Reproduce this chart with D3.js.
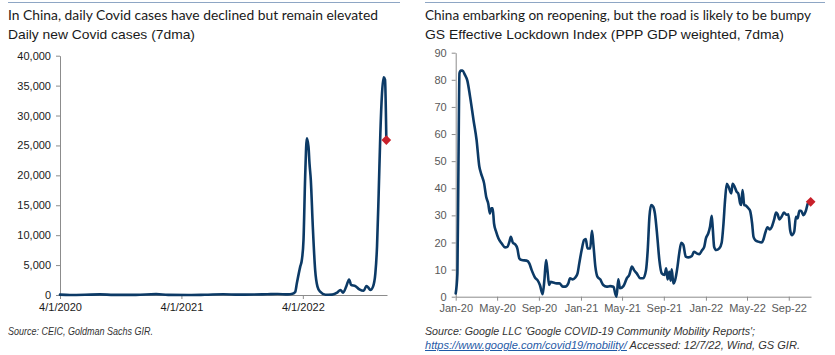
<!DOCTYPE html>
<html>
<head>
<meta charset="utf-8">
<script src="https://cdn.jsdelivr.net/npm/d3@7"></script>
<style>
  html, body { margin: 0; padding: 0; background: #fff; }
  svg { display: block; }
</style>
</head>
<body>
<svg id="chart" width="835" height="355"></svg>
<script>
// ---------- DATA ----------
// Left panel: China daily new Covid cases (7dma)
const casesDates = ["2020-04-01","2020-05-01","2020-06-15","2020-07-30","2020-09-10","2020-11-15",
  "2021-01-15","2021-02-20","2021-05-01","2021-06-10","2021-08-05","2021-09-20","2021-11-05","2021-12-15",
  "2022-01-15","2022-02-15","2022-03-01","2022-03-09","2022-03-14","2022-03-24","2022-03-29","2022-04-03",
  "2022-04-08","2022-04-13","2022-04-18","2022-04-21","2022-04-25","2022-05-01","2022-05-08","2022-05-15",
  "2022-05-23","2022-06-08","2022-06-28","2022-07-13","2022-07-23","2022-07-31","2022-08-10","2022-08-18",
  "2022-08-24","2022-09-06","2022-09-18","2022-10-01","2022-10-09","2022-10-14","2022-10-21","2022-10-29",
  "2022-11-05","2022-11-10","2022-11-15","2022-11-20","2022-11-25","2022-11-30","2022-12-04","2022-12-08"];
const casesValues = [60,10,40,100,20,20,
  150,20,10,30,120,60,80,130,
  170,100,200,500,1960,4700,5850,9200,
  19800,26200,24800,22000,19200,11400,4200,1400,
  550,50,60,390,840,390,1500,2600,
  1700,1500,950,720,1500,1300,840,1400,
  3600,8100,17000,27000,33700,36400,36000,25900];
const casesYTicks = [0,5000,10000,15000,20000,25000,30000,35000,40000];
const casesXTicks = ["2020-04-01","2021-04-01","2022-04-01"];
const casesXTickLabels = ["4/1/2020","4/1/2021","4/1/2022"];

// Right panel: GS Effective Lockdown Index (days since series start)
const lockdownStart = "2020-01-31";
const lockdownDays = [0,5,8,11,15,20,27,34,42,52,
  61,69,74,83,89,95,100,104,108,112,
  118,125,134,144,151,157,161,167,173,180,
  186,193,207,215,222,232,239,246,254,259,
  264,268,273,278,285,295,303,313,320,329,
  334,342,349,356,361,368,375,380,385,393,
  398,402,408,414,422,431,441,451,461,466,
  470,475,480,490,500,507,515,521,529,539,
  548,556,561,566,571,577,582,589,595,602,
  610,615,619,624,628,631,636,641,648,653,
  659,665,672,680,690,696,704,712,719,726,
  731,738,743,748,751,755,761,770,777,782,
  787,792,797,805,809,814,821,826,831,834,
  838,843,848,855,860,866,870,875,884,894,
  899,904,911,918,923,930,936,940,946,952,
  959,967,972,977,982,989,994,999,1004,1009,
  1016,1023,1029,1037];
const lockdownValues = [1.2,8.6,48,82.4,83.4,83.4,81.8,79.7,73.8,65.2,
  57.8,48,45.5,41.8,36.9,34.4,30.7,32.6,32.6,27,
  24,21.5,19.7,18.2,18.4,20.3,22.1,19.9,19.4,17.8,
  14.1,13.5,13.3,12.3,9.8,7,6.1,4.3,0.9,6,
  13.5,9.8,4.3,5.5,5.2,4.9,4.9,3.7,3.7,4.9,
  6.8,6.4,7,8.6,12.3,17.2,20.9,21.3,17.8,17.8,
  24.3,19.7,11.1,7.4,6.4,4.3,3.7,3.9,3.7,1.2,
  0,6.4,3.1,3.9,6.8,8,11.1,9.8,8.6,6.8,
  6.8,9.8,17.2,29.5,33.8,33.2,30.7,22.1,13.5,8.6,
  8,10.5,6.4,9.2,5.9,10.1,4.9,6.1,11.1,16,
  19.9,19.1,14.8,14.5,15,16.6,16,15.7,17,18.4,
  21.5,23.4,25.8,29.8,25.2,18.4,17.2,17.8,19.9,26.4,
  35.7,41.6,40.6,38.1,41.6,40.8,38.7,37.9,34.4,33.8,
  39.3,33.8,33.6,32.6,31.7,27,22.1,20.9,20.3,20,
  21.1,23.4,25.6,24.8,25.6,28.3,31,30.5,28.5,29.5,
  31,30.2,30.4,24.6,22.7,24,29.5,28.9,31.7,31.7,
  30.1,31.7,34.4,35];
const lockdownYTicks = [0,10,20,30,40,50,60,70,80,90];
const lockdownXTicks = ["2020-01-31","2020-05-31","2020-09-30","2021-01-31","2021-05-31","2021-09-30","2022-01-31","2022-05-31","2022-09-30"];
const lockdownXTickLabels = ["Jan-20","May-20","Sep-20","Jan-21","May-21","Sep-21","Jan-22","May-22","Sep-22"];

// ---------- DRAW ----------
const parse = d3.utcParse("%Y-%m-%d");
const svg = d3.select("#chart");
const LINE = "#0c3a66", RED = "#c8202a", AXIS = "#8c8c8c";

function header(x0, x1, title, tLen, sub, sLen) {
  svg.append("line").attr("x1", x0).attr("x2", x1).attr("y1", 2.5).attr("y2", 2.5)
    .attr("stroke", "#8ea6c4").attr("stroke-width", 1);
  svg.append("text").attr("x", x0).attr("y", 19.5)
    .attr("font-family", "Lato, 'Open Sans', sans-serif").attr("font-size", 14)
    .attr("fill", "#1a1a1a").attr("textLength", tLen).attr("lengthAdjust", "spacingAndGlyphs")
    .text(title);
  svg.append("text").attr("x", x0).attr("y", 38.5)
    .attr("font-family", "'Liberation Sans', Arial, sans-serif").attr("font-size", 13)
    .attr("fill", "#1a1a1a").attr("textLength", sLen).attr("lengthAdjust", "spacingAndGlyphs")
    .text(sub);
}

function panel(opts) {
  const x = d3.scaleUtc().domain(opts.xDomain).range(opts.xRange);
  const y = d3.scaleLinear().domain(opts.yDomain).range(opts.yRange);
  const g = svg.append("g");

  // y axis
  const yAx = g.append("g").attr("transform", `translate(${opts.xRange[0]},0)`)
    .call(d3.axisLeft(y).tickValues(opts.yTicks).tickSize(4).tickSizeOuter(0).tickPadding(5)
      .tickFormat(opts.yFormat));
  yAx.select(".domain").attr("stroke", AXIS);
  yAx.selectAll(".tick line").attr("stroke", AXIS);
  yAx.selectAll("text").attr("font-family", "'Liberation Sans', Arial, sans-serif")
    .attr("font-size", 11).attr("fill", opts.labelColor);

  // x axis
  const xAx = g.append("g").attr("transform", `translate(0,${opts.yRange[0]})`)
    .call(d3.axisBottom(x).tickValues(opts.xTicks).tickSize(4).tickSizeOuter(0).tickPadding(4)
      .tickFormat((d, i) => opts.xLabels[i]));
  xAx.select(".domain").attr("stroke", AXIS);
  xAx.selectAll(".tick line").attr("stroke", AXIS);
  xAx.selectAll("text").attr("font-family", "'Liberation Sans', Arial, sans-serif")
    .attr("font-size", 11).attr("fill", opts.labelColor);

  const line = d3.line().x(d => x(d.date)).y(d => y(d.value)).curve(d3.curveMonotoneX);
  g.append("path").datum(opts.data).attr("d", line)
    .attr("fill", "none").attr("stroke", LINE).attr("stroke-width", 2.6)
    .attr("stroke-linejoin", "round").attr("stroke-linecap", "round");

  const last = opts.data[opts.data.length - 1];
  g.append("path").attr("d", d3.symbol(d3.symbolDiamond2, 60)())
    .attr("transform", `translate(${x(last.date)},${y(last.value)}) rotate(0)`)
    .attr("fill", RED);
}

// Left panel
header(8, 400, "In China, daily Covid cases have declined but remain elevated", 370,
  "Daily new Covid cases (7dma)", 187);
const casesData = casesDates.map((d, i) => ({date: parse(d), value: casesValues[i]}));
panel({
  data: casesData,
  xDomain: [parse("2020-04-01"), parse("2022-12-10")],
  xRange: [60, 387],
  yDomain: [0, 40000],
  yRange: [295, 55.7],
  yTicks: casesYTicks,
  yFormat: d3.format(","),
  xTicks: casesXTicks.map(parse),
  xLabels: casesXTickLabels,
  labelColor: "#1a1a1a"
});

// Right panel
header(425, 825, "China embarking on reopening, but the road is likely to be bumpy", 386,
  "GS Effective Lockdown Index (PPP GDP weighted, 7dma)", 359);
const base = parse(lockdownStart);
const lockData = lockdownDays.map((d, i) => ({date: d3.utcDay.offset(base, d), value: lockdownValues[i]}));
panel({
  data: lockData,
  xDomain: [base, d3.utcDay.offset(base, 1038)],
  xRange: [455.7, 811],
  yDomain: [0, 90],
  yRange: [296.7, 52.7],
  yTicks: lockdownYTicks,
  yFormat: d3.format("d"),
  xTicks: lockdownXTicks.map(parse),
  xLabels: lockdownXTickLabels,
  labelColor: "#595959"
});

// Footnotes
const foot = (x, y) => svg.append("text").attr("x", x).attr("y", y)
  .attr("font-family", "'Liberation Sans', Arial, sans-serif").attr("font-size", 10)
  .attr("font-style", "italic").attr("fill", "#333");
foot(8, 334.5).attr("textLength", 145).attr("lengthAdjust", "spacingAndGlyphs")
  .text("Source: CEIC, Goldman Sachs GIR.");
foot(425, 334.5).attr("textLength", 330).attr("lengthAdjust", "spacingAndGlyphs")
  .text("Source: Google LLC 'Google COVID-19 Community Mobility Reports';");
const f2 = foot(425, 349);
f2.append("tspan").attr("fill", "#1f5aa6").attr("text-decoration", "underline")
  .text("https://www.google.com/covid19/mobility/");
f2.append("tspan").text(" Accessed: 12/7/22, Wind, GS GIR.");
f2.attr("textLength", 375).attr("lengthAdjust", "spacingAndGlyphs");
</script>
</body>
</html>
